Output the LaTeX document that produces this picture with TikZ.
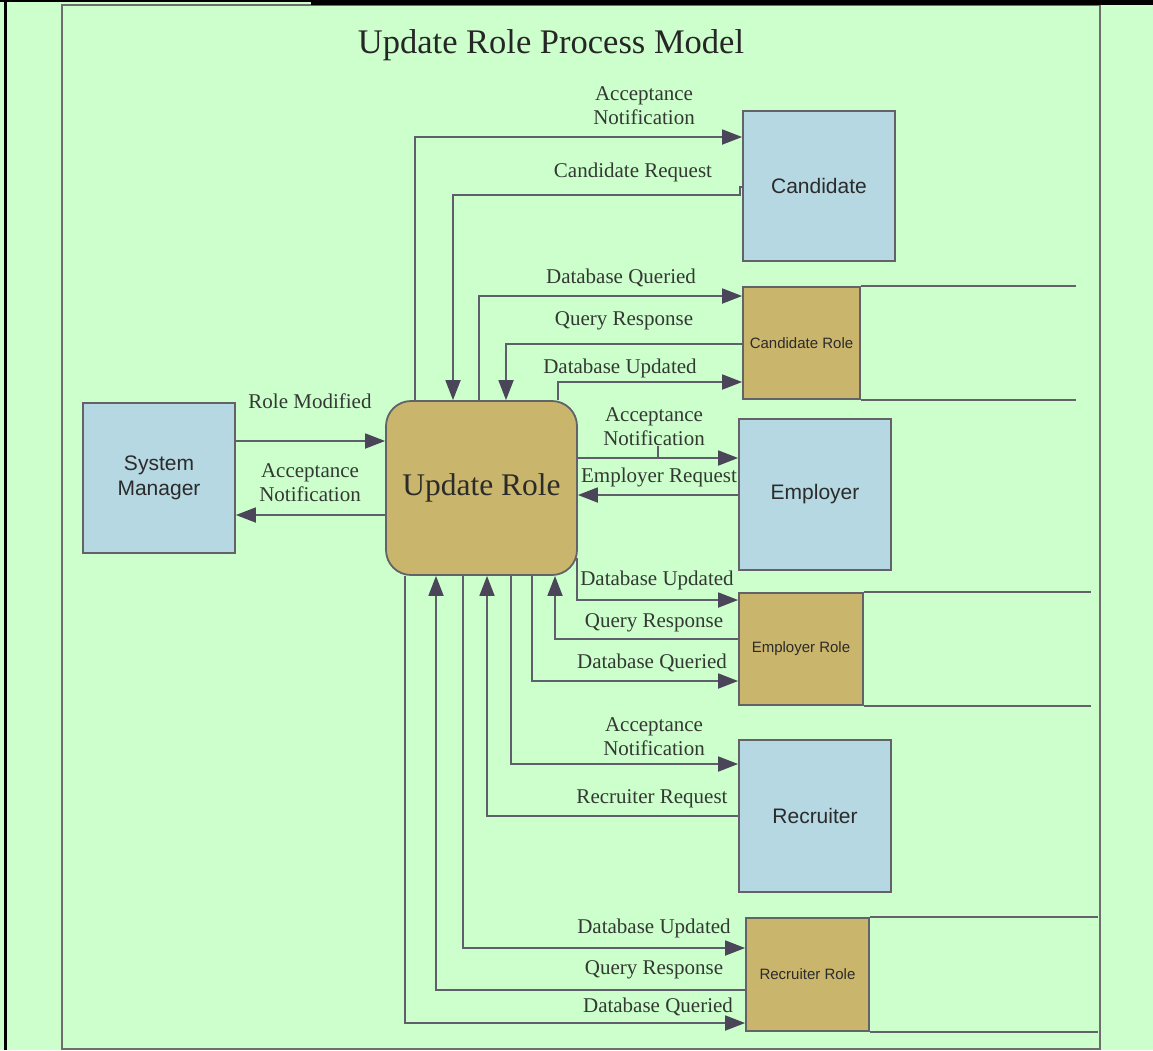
\documentclass[tikz,border=0pt]{standalone}
\usepackage{fontspec}
\setmainfont{Liberation Serif}
\newfontfamily\boxfont{Liberation Sans}
\usetikzlibrary{arrows.meta}
\definecolor{bg}{HTML}{CCFFCC}
\definecolor{frame}{HTML}{6E6E6E}
\definecolor{bluebox}{HTML}{B5D8E2}
\definecolor{brownbox}{HTML}{C9B56B}
\definecolor{boxline}{HTML}{626268}
\definecolor{linec}{HTML}{5F5F6B}
\definecolor{arrc}{HTML}{4A4558}
\definecolor{labc}{HTML}{333833}
\definecolor{boxtext}{HTML}{2B2B2B}
\begin{document}
\begin{tikzpicture}[x=1pt,y=-1pt,
  conn/.style={draw=linec, line width=1.8pt},
  arr/.style={conn, -{Triangle[length=20pt,width=15pt,color=arrc]}},
  ext/.style={rectangle, draw=boxline, line width=1.8pt, fill=bluebox, minimum width=152pt, text=boxtext,
    font=\boxfont\fontsize{21}{25}\selectfont, align=center, inner sep=0pt},
  store/.style={rectangle, draw=boxline, line width=1.8pt, fill=brownbox, text=boxtext,
    font=\boxfont\fontsize{15}{18}\selectfont, inner sep=0pt, minimum height=112pt},
  proc/.style={rectangle, rounded corners=25pt, draw=boxline, line width=1.8pt, fill=brownbox, text=boxtext,
    font=\fontsize{31.5}{36}\selectfont, minimum width=191pt, minimum height=174pt, inner sep=0pt},
  lab/.style={font=\fontsize{21}{24}\selectfont, text=labc, inner sep=0pt, anchor=base},
  labtwo/.style={font=\fontsize{21}{24}\selectfont, text=labc, inner sep=0pt, align=center, anchor=center}]
\useasboundingbox (0,0) rectangle (1153,1050);
% background and frame
\fill[bg] (0,0) rectangle (1153,1050);
\draw[frame, line width=2pt] (62,5) rectangle (1100,1049);
\fill[black] (4,0) rectangle (7,1050);
\fill[black] (0,0) rectangle (311,2);
\fill[black] (311,0) rectangle (1153,4.5);

% title
\node[anchor=base, font=\fontsize{34.5}{40}\selectfont, text=black!85] (title) at (551,53) {Update Role Process Model};

% boxes
\node[ext, minimum height=150pt] (sm) at (159,478) {System\\Manager};
\node[ext, minimum height=150pt] (cand) at (819,186) {Candidate};
\node[ext, minimum height=151pt] (emp) at (815,494.5) {Employer};
\node[ext, minimum height=152pt] (rec) at (815,816) {Recruiter};
\node[store, minimum width=117pt] (crole) at (801.5,343) {Candidate Role};
\node[store, minimum width=124pt] (erole) at (801,649) {Employer Role};
\node[store, minimum width=123pt, minimum height=113pt] (rrole) at (807.5,974.5) {Recruiter Role};
\node[proc] (ur) at (481.5,488) {Update Role};

% data store open lines
\draw[boxline, line width=1.8pt] (crole.north east) -- ++(215,0);
\draw[boxline, line width=1.8pt] (crole.south east) -- ++(215,0);
\draw[boxline, line width=1.8pt] (erole.north east) -- ++(227,0);
\draw[boxline, line width=1.8pt] (erole.south east) -- ++(227,0);
\draw[boxline, line width=1.8pt] (rrole.north east) -- ++(228,0);
\draw[boxline, line width=1.8pt] (rrole.south east) -- ++(228,0);

% connectors: system manager
\draw[arr] (sm.east |- 0,441) -- (ur.west |- 0,441);
\draw[arr] (ur.west |- 0,515) -- (sm.east |- 0,515);
% candidate
\draw[arr] (ur.north -| 415,0) |- (cand.west |- 0,137);
\draw[arr] (cand.west |- 0,187) -- ++(-2,0) -- ++(0,8) -| (ur.north -| 453,0);
% candidate role
\draw[arr] (ur.north -| 479,0) |- (crole.west |- 0,296);
\draw[arr] (crole.west |- 0,344) -| (ur.north -| 506,0);
\draw[arr] (ur.north -| 558,0) |- (crole.west |- 0,382);
% employer
\draw[arr] (ur.east |- 0,458) -- (emp.west |- 0,458);
\draw[arr] (emp.west |- 0,495) -- (ur.east |- 0,495);
% employer role
\draw[arr] ([xshift=-1pt,yshift=18pt]ur.south east) |- (erole.west |- 0,600);
\draw[arr] (erole.west |- 0,639) -| (ur.south -| 555,0);
\draw[arr] (ur.south -| 532,0) |- (erole.west |- 0,681);
% recruiter
\draw[arr] (ur.south -| 511,0) |- (rec.west |- 0,764);
\draw[arr] (rec.west |- 0,816) -| (ur.south -| 487,0);
% recruiter role
\draw[arr] (ur.south -| 463,0) |- (rrole.west |- 0,948);
\draw[arr] (rrole.west |- 0,990) -| (ur.south -| 436,0);
\draw[arr] (ur.south -| 405,0) |- (rrole.west |- 0,1023);

% labels
\node[lab] (l1) at (310,408) {Role Modified};
\node[labtwo] (l2) at (310,483) {Acceptance\\Notification};
\node[labtwo] (l3) at (644,106) {Acceptance\\Notification};
\node[lab] (l4) at (633,177) {Candidate Request};
\node[lab] (l5) at (621,283) {Database Queried};
\node[lab] (l6) at (624,325) {Query Response};
\node[lab] (l7) at (620,373) {Database Updated};
\node[labtwo] (l8) at (654,427) {Acceptance\\Notification};
\node[lab] (l9) at (659,482) {Employer Request};
\node[lab] (l10) at (657,585) {Database Updated};
\node[lab] (l11) at (654,627) {Query Response};
\node[lab] (l12) at (652,668) {Database Queried};
\node[labtwo] (l13) at (654,737) {Acceptance\\Notification};
\node[lab] (l14) at (652,803) {Recruiter Request};
\node[lab] (l15) at (654,933) {Database Updated};
\node[lab] (l16) at (654,974) {Query Response};
\node[lab] (l17) at (658,1012) {Database Queried};

% small tick under the employer notification label
\coordinate (tick) at (658,458);
\draw[linec, line width=1.2pt] (l8.south -| tick) -- (tick);
\end{tikzpicture}
\end{document}
